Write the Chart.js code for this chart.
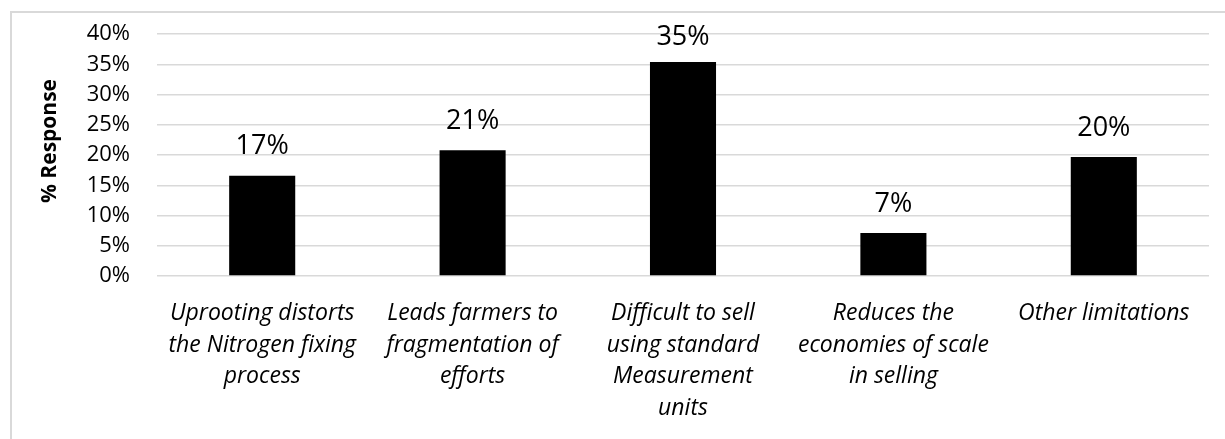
<!DOCTYPE html>
<html lang="en">
<head>
    <meta charset="UTF-8">
    <title>% Response by limitation</title>
    <script src="https://cdn.jsdelivr.net/npm/chart.js@4.4.1/dist/chart.umd.min.js"></script>
    <style>
        body {
            margin: 0;
            background-color: white;
            overflow: hidden;
        }
        .frame {
            position: relative;
            width: 1225px;
            height: 439px;
            overflow: hidden;
        }
        .frame-border {
            position: absolute;
            left: 10px;
            top: 11px;
            width: 1240px;
            height: 460px;
            border: 2px solid #d9d9d9;
        }
        /* chart.js keeps ~40px above the plot, so pull the canvas up a bit */
        #responseChart {
            position: absolute;
            left: 0;
            top: -6px;
        }
    </style>
</head>
<body>
    <div class="frame">
        <div class="frame-border"></div>
        <canvas id="responseChart" width="1225" height="445"></canvas>
    </div>

    <script>
        // Chart data
        const categories = [
            ['Uprooting distorts', 'the Nitrogen fixing', 'process'],
            ['Leads farmers to', 'fragmentation of', 'efforts'],
            ['Difficult to sell', 'using standard', 'Measurement', 'units'],
            ['Reduces the', 'economies of scale', 'in selling'],
            ['Other limitations']
        ];
        const responsePct = [16.6, 20.8, 35.4, 7.1, 19.7];
        const yTicks = [0, 5, 10, 15, 20, 25, 30, 35, 40];
        const yTitle = '% Response';

        const FONT = "'Open Sans', 'Noto Sans', sans-serif";

        // Draws the rounded % value above each bar, plus the y axis title
        const barValueLabels = {
            id: 'barValueLabels',
            afterDatasetsDraw(chart) {
                const ctx = chart.ctx;
                const meta = chart.getDatasetMeta(0);
                ctx.save();
                ctx.fillStyle = '#000';
                ctx.font = '27px ' + FONT;
                ctx.textAlign = 'center';
                ctx.textBaseline = 'middle';
                meta.data.forEach((bar, i) => {
                    // tallest label sits a little closer to its bar, as in the original
                    const gap = responsePct[i] > 30 ? 25 : 29;
                    ctx.fillText(Math.round(responsePct[i]) + '%', bar.x, bar.y - gap);
                });
                // axis title, a bit above the plot middle like the original
                ctx.font = 'bold 21px ' + FONT;
                ctx.translate(50, 147);
                ctx.rotate(-Math.PI / 2);
                ctx.fillText(yTitle, 0, 0);
                ctx.restore();
            }
        };

        new Chart(document.getElementById('responseChart'), {
            type: 'bar',
            data: {
                labels: categories,
                datasets: [{
                    data: responsePct,
                    backgroundColor: '#000000',
                    borderColor: '#000000',
                    borderWidth: 0,
                    categoryPercentage: 1,
                    barPercentage: 0.314
                }]
            },
            options: {
                responsive: false,
                animation: false,
                layout: {
                    padding: { top: 30, right: 16, left: 0, bottom: 0 }
                },
                plugins: {
                    legend: { display: false },
                    tooltip: { enabled: false }
                },
                scales: {
                    x: {
                        grid: { display: false },
                        border: { display: false },
                        ticks: {
                            color: '#000',
                            font: { family: FONT, size: 23, style: 'italic', lineHeight: 1.37 },
                            padding: 14,
                            maxRotation: 0,
                            autoSkip: false
                        },
                        afterFit(scale) { scale.height = 163; }
                    },
                    y: {
                        min: 0,
                        max: 40,
                        afterBuildTicks(scale) {
                            scale.ticks = yTicks.map(v => ({ value: v }));
                        },
                        grid: {
                            color: '#d9d9d9',
                            lineWidth: 1.5,
                            drawTicks: false
                        },
                        border: { display: false },
                        ticks: {
                            color: '#000',
                            font: { family: FONT, size: 22 },
                            padding: 27,
                            callback: v => v + '%'
                        },
                        afterFit(scale) { scale.width = 157; }
                    }
                }
            },
            plugins: [barValueLabels]
        });
    </script>
</body>
</html>
